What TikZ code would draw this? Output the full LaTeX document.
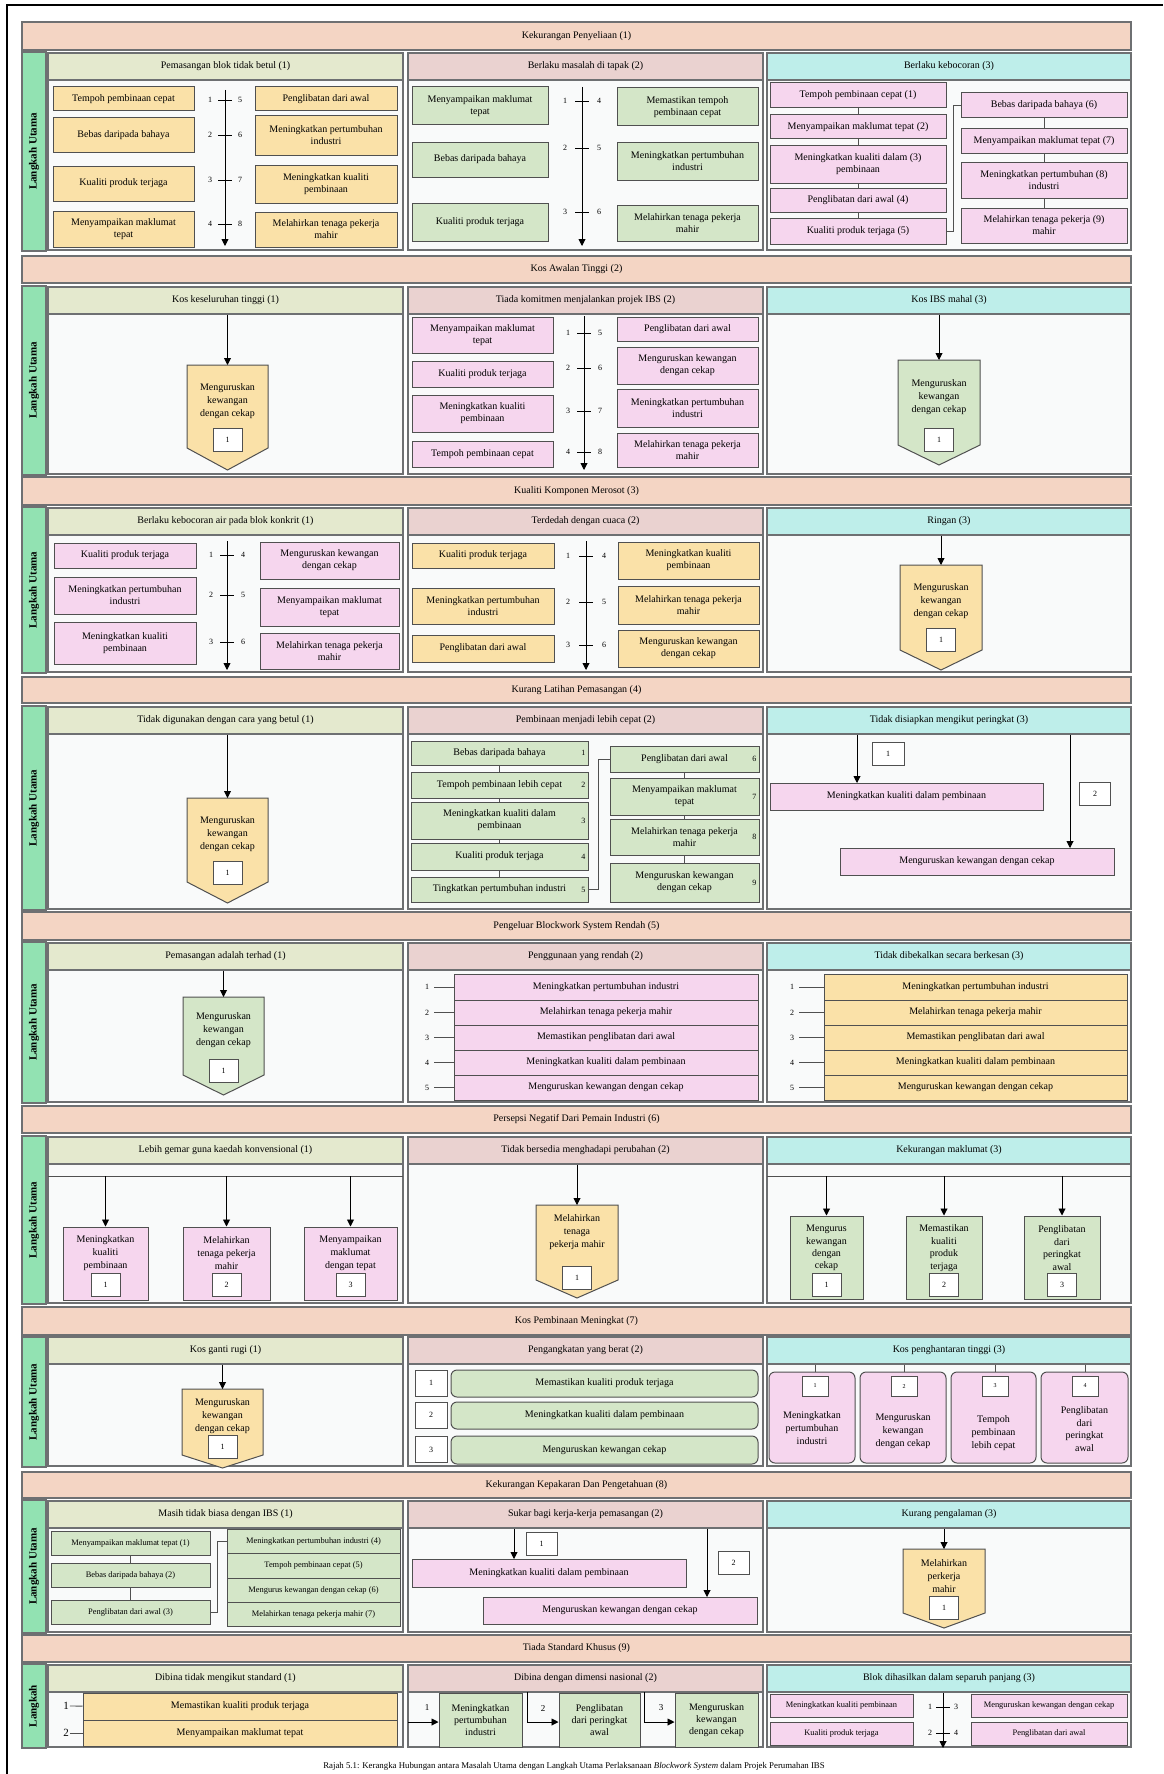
\documentclass[tikz,border=0pt]{standalone}
\usepackage{fontspec}
\setmainfont{Liberation Serif}
\usetikzlibrary{arrows.meta}

\definecolor{barsalmon}{RGB}{244,213,196}
\definecolor{stripgreen}{RGB}{146,226,178}
\definecolor{hdolive}{RGB}{228,233,206}
\definecolor{hdrose}{RGB}{234,210,208}
\definecolor{hdcyan}{RGB}{190,238,234}
\definecolor{fillorange}{RGB}{250,225,168}
\definecolor{fillpink}{RGB}{246,214,238}
\definecolor{fillgreen}{RGB}{212,230,200}
\definecolor{cellwhite}{RGB}{249,250,250}
\definecolor{framegrey}{RGB}{110,112,114}
\definecolor{boxgrey}{RGB}{80,80,80}

\tikzset{
  every node/.style={font=\fontsize{10}{12}\selectfont},
  bar/.style={draw=framegrey, fill=barsalmon, line width=1.3pt, inner sep=0pt},
  strip/.style={draw=framegrey, fill=stripgreen, line width=1.3pt, inner sep=0pt},
  striptxt/.style={font=\fontsize{11}{13}\selectfont\bfseries, inner sep=0pt},
  colbody/.style={draw=framegrey, fill=cellwhite, line width=1.3pt, inner sep=0pt},
  colhd/.style={draw=framegrey, line width=1.3pt, inner sep=0pt},
  hdA/.style={colhd, fill=hdolive},
  hdB/.style={colhd, fill=hdrose},
  hdC/.style={colhd, fill=hdcyan},
  box/.style={draw=boxgrey, line width=1pt, inner sep=0pt, align=center},
  boxO/.style={box, fill=fillorange},
  boxP/.style={box, fill=fillpink},
  boxG/.style={box, fill=fillgreen},
  smalltxt/.style={font=\fontsize{8.4}{9.5}\selectfont},
  rnd/.style={rounded corners=6pt},
  ptext/.style={align=center, inner sep=0pt, font=\fontsize{10}{12.8}\selectfont},
  numbox/.style={draw=boxgrey, fill=white, line width=0.8pt, inner sep=0pt,
    minimum width=29, minimum height=23, font=\fontsize{8}{9}\selectfont},
  tick/.style={inner sep=1pt, font=\fontsize{8}{9}\selectfont},
  numlbl/.style={tick, inner xsep=5pt},
  arr/.style={draw=black, line width=0.9pt, -{Triangle[width=7pt,length=7pt]}},
  link/.style={draw=boxgrey, line width=0.9pt},
  pentline/.style={draw=boxgrey, line width=1pt},
}

% box by its corners: style, x1, y1, x2, y2, name, text
\newcommand{\cell}[7]{\node[#1, minimum width={#4-#2}, minimum height={#5-#3}] (#6) at ({(#2+#4)/2},{(#3+#5)/2}) {#7};}
% pentagon pointing down: name, fill, x1, x2, top, shoulder, point
\newcommand{\pent}[7]{%
  \filldraw[pentline, fill=#2] (#3,#5) -- (#4,#5) -- (#4,#6) -- ({(#3+#4)/2},#7) -- (#3,#6) -- cycle;
  \coordinate (#1) at ({(#3+#4)/2},#5);}
% numbered time line: name, x, top, bottom, offset of numbers, y/left/right
\newcommand{\tline}[6]{%
  \coordinate (#1a) at (#2,#3);
  \coordinate (#1b) at (#2,#4);
  \draw[arr] (#1a) -- (#1b);
  \foreach \py/\pl/\pr in {#6}{%
    \draw[black, line width=0.9pt] (#2-7,\py) -- (#2+7,\py);
    \node[tick] (#1l\pl) at (#2-#5,\py) {\pl};
    \node[tick] (#1r\pr) at (#2+#5,\py) {\pr};}}

\begin{document}
\begin{tikzpicture}[x=1pt,y=-1pt]
\useasboundingbox (0,0) rectangle (1163,1774);
\fill[white] (0,0) rectangle (1163,1774);
\draw[line width=1.6pt] (7,1774) -- (7,5) -- (1163,5); % frame

% problem bars
\foreach \i/\ya/\yb/\txt in {1/22/50/Kekurangan Penyeliaan (1), 2/256/283/Kos Awalan Tinggi (2),
  3/477/505/Kualiti Komponen Merosot (3), 4/677/703/Kurang Latihan Pemasangan (4),
  5/912/940/Pengeluar Blockwork System Rendah (5), 6/1106/1133/Persepsi Negatif Dari Pemain Industri (6),
  7/1307/1335/Kos Pembinaan Meningkat (7), 8/1472/1498/Kekurangan Kepakaran Dan Pengetahuan (8),
  9/1635/1662/Tiada Standard Khusus (9)}
  {\cell{bar}{22}{\ya}{1131}{\yb}{bar\i}{\txt}}

% side strips
\foreach \ya/\yb in {52/251,286/475,507/673,706/910,942/1103,1136/1304,1337/1467,1500/1633}{
  \cell{strip}{22}{\ya}{46}{\yb}{st\ya}{}
  \node[striptxt, rotate=90] (stt\ya) at (st\ya) {Langkah Utama};}
\cell{strip}{22}{1664}{46}{1748}{st9}{}
\node[striptxt, rotate=90] (stt9) at (st9) {Langkah};

% columns and their heads
\foreach \s/\ya/\yb/\ta/\tb/\tc in {
  1/53/250/Pemasangan blok tidak betul (1)/Berlaku masalah di tapak (2)/Berlaku kebocoran (3),
  2/287/474/Kos keseluruhan tinggi (1)/Tiada komitmen menjalankan projek IBS (2)/Kos IBS mahal (3),
  3/508/672/Berlaku kebocoran air pada blok konkrit (1)/Terdedah dengan cuaca (2)/Ringan (3),
  4/707/909/Tidak digunakan dengan cara yang betul (1)/Pembinaan menjadi lebih cepat (2)/Tidak disiapkan mengikut peringkat (3),
  5/943/1102/Pemasangan adalah terhad (1)/Penggunaan yang rendah (2)/Tidak dibekalkan secara berkesan (3),
  6/1137/1303/Lebih gemar guna kaedah konvensional (1)/Tidak bersedia menghadapi perubahan (2)/Kekurangan maklumat (3),
  7/1337/1466/Kos ganti rugi (1)/Pengangkatan yang berat (2)/Kos penghantaran tinggi (3),
  8/1501/1632/Masih tidak biasa dengan IBS (1)/Sukar bagi kerja-kerja pemasangan (2)/Kurang pengalaman (3),
  9/1665/1747/Dibina tidak mengikut standard (1)/Dibina dengan dimensi nasional (2)/Blok dihasilkan dalam separuh panjang (3)}{
  \cell{colbody}{48}{\ya}{403}{\yb}{cb\s a}{}
  \cell{colbody}{408}{\ya}{763}{\yb}{cb\s b}{}
  \cell{colbody}{767}{\ya}{1131}{\yb}{cb\s c}{}
  \cell{hdA}{48}{\ya}{403}{\ya+27}{h\s a}{\ta}
  \cell{hdB}{408}{\ya}{763}{\ya+27}{h\s b}{\tb}
  \cell{hdC}{767}{\ya}{1131}{\ya+27}{h\s c}{\tc}}

% ---- 1 ----
\cell{boxO}{53}{87}{194}{111}{a1}{Tempoh pembinaan cepat}
\cell{boxO}{53}{118}{194}{152}{a2}{Bebas daripada bahaya}
\cell{boxO}{53}{166}{194}{201}{a3}{Kualiti produk terjaga}
\cell{boxO}{53}{211}{194}{247}{a4}{Menyampaikan maklumat\\tepat}
\cell{boxO}{255}{87}{397}{111}{a5}{Penglibatan dari awal}
\cell{boxO}{255}{116}{397}{155}{a6}{Meningkatkan pertumbuhan\\industri}
\cell{boxO}{255}{165}{397}{203}{a7}{Meningkatkan kualiti\\pembinaan}
\cell{boxO}{255}{212}{397}{247}{a8}{Melahirkan tenaga pekerja\\mahir}
\tline{t1}{225}{90}{246}{15}{100/1/5,135/2/6,180/3/7,224/4/8}

\cell{boxG}{412}{87}{548}{125}{b1}{Menyampaikan maklumat\\tepat}
\cell{boxG}{412}{142}{548}{177}{b2}{Bebas daripada bahaya}
\cell{boxG}{412}{203}{548}{241}{b3}{Kualiti produk terjaga}
\cell{boxG}{617}{88}{758}{126}{b4}{Memastikan tempoh\\pembinaan cepat}
\cell{boxG}{617}{142}{758}{180}{b5}{Meningkatkan pertumbuhan\\industri}
\cell{boxG}{617}{205}{758}{241}{b6}{Melahirkan tenaga pekerja\\mahir}
\tline{t2}{582}{87}{246}{17}{101/1/4,148/2/5,212/3/6}

\cell{boxP}{770}{83}{946}{108}{k1}{Tempoh pembinaan cepat (1)}
\cell{boxP}{770}{115}{946}{139}{k2}{Menyampaikan maklumat tepat (2)}
\cell{boxP}{770}{145}{946}{183}{k3}{Meningkatkan kualiti dalam (3)\\pembinaan}
\cell{boxP}{770}{188}{946}{212}{k4}{Penglibatan dari awal (4)}
\cell{boxP}{770}{218}{946}{244}{k5}{Kualiti produk terjaga (5)}
\cell{boxP}{961}{93}{1127}{118}{k6}{Bebas daripada bahaya (6)}
\cell{boxP}{961}{129}{1127}{153}{k7}{Menyampaikan maklumat tepat (7)}
\cell{boxP}{961}{162}{1127}{198}{k8}{Meningkatkan pertumbuhan (8)\\industri}
\cell{boxP}{961}{208}{1127}{243}{k9}{Melahirkan tenaga pekerja (9)\\mahir}
\draw[link] (k1) -- (k2); \draw[link] (k2) -- (k3); \draw[link] (k3) -- (k4); \draw[link] (k4) -- (k5);
\draw[link] (k6) -- (k7); \draw[link] (k7) -- (k8); \draw[link] (k8) -- (k9);
\draw[link] (k5.east) -- ++(7,0) |- (k6.west);

% ---- 2 ----
\pent{p1}{fillorange}{187}{268}{365}{448}{470}
\node[ptext] (p1t) at (227.5,401) {Menguruskan\\kewangan\\dengan cekap};
\node[numbox] (p1n) at (227.5,440) {1};
\draw[arr] (h2a.south -| p1) -- (p1);

\cell{boxP}{412}{317}{553}{353}{c1}{Menyampaikan maklumat\\tepat}
\cell{boxP}{412}{361}{553}{387}{c2}{Kualiti produk terjaga}
\cell{boxP}{412}{395}{553}{432}{c3}{Meningkatkan kualiti\\pembinaan}
\cell{boxP}{412}{441}{553}{467}{c4}{Tempoh pembinaan cepat}
\cell{boxP}{617}{317}{758}{341}{c5}{Penglibatan dari awal}
\cell{boxP}{617}{347}{758}{384}{c6}{Menguruskan kewangan\\dengan cekap}
\cell{boxP}{617}{389}{758}{427}{c7}{Meningkatkan pertumbuhan\\industri}
\cell{boxP}{617}{433}{758}{467}{c8}{Melahirkan tenaga pekerja\\mahir}
\tline{t3}{584}{316}{470}{16}{333/1/5,368/2/6,411/3/7,452/4/8}

\pent{p2}{fillgreen}{898}{980}{360}{445}{465}
\node[ptext] (p2t) at (939,397) {Menguruskan\\kewangan\\dengan cekap};
\node[numbox] (p2n) at (939,440) {1};
\draw[arr] (h2c.south -| p2) -- (p2);

% ---- 3 ----
\cell{boxP}{54}{543}{196}{568}{d1}{Kualiti produk terjaga}
\cell{boxP}{54}{577}{196}{614}{d2}{Meningkatkan pertumbuhan\\industri}
\cell{boxP}{54}{622}{196}{664}{d3}{Meningkatkan kualiti\\pembinaan}
\cell{boxP}{260}{542}{399}{579}{d4}{Menguruskan kewangan\\dengan cekap}
\cell{boxP}{260}{588}{399}{626}{d5}{Menyampaikan maklumat\\tepat}
\cell{boxP}{260}{633}{399}{669}{d6}{Melahirkan tenaga pekerja\\mahir}
\tline{t4}{227}{541}{670}{16}{555/1/4,595/2/5,642/3/6}

\cell{boxO}{412}{543}{554}{568}{e1}{Kualiti produk terjaga}
\cell{boxO}{412}{588}{554}{624}{e2}{Meningkatkan pertumbuhan\\industri}
\cell{boxO}{412}{635}{554}{662}{e3}{Penglibatan dari awal}
\cell{boxO}{618}{542}{759}{579}{e4}{Meningkatkan kualiti\\pembinaan}
\cell{boxO}{618}{586}{759}{624}{e5}{Melahirkan tenaga pekerja\\mahir}
\cell{boxO}{618}{630}{759}{667}{e6}{Menguruskan kewangan\\dengan cekap}
\tline{t5}{586}{541}{670}{18}{556/1/4,602/2/5,645/3/6}

\pent{p3}{fillorange}{900}{982}{565}{650}{670}
\node[ptext] (p3t) at (941,601) {Menguruskan\\kewangan\\dengan cekap};
\node[numbox] (p3n) at (941,640) {1};
\draw[arr] (h3c.south -| p3) -- (p3);

% ---- 4 ----
\pent{p4}{fillorange}{187}{268}{798}{882}{903}
\node[ptext] (p4t) at (227.5,834) {Menguruskan\\kewangan\\dengan cekap};
\node[numbox] (p4n) at (227.5,873) {1};
\draw[arr] (h4a.south -| p4) -- (p4);

\cell{boxG}{411}{741}{588}{765}{f1}{Bebas daripada bahaya}
\cell{boxG}{411}{772}{588}{798}{f2}{Tempoh pembinaan lebih cepat}
\cell{boxG}{411}{802}{588}{839}{f3}{Meningkatkan kualiti dalam\\pembinaan}
\cell{boxG}{411}{843}{588}{870}{f4}{Kualiti produk terjaga}
\cell{boxG}{411}{877}{588}{902}{f5}{Tingkatkan pertumbuhan industri}
\cell{boxG}{610}{746}{759}{772}{f6}{Penglibatan dari awal}
\cell{boxG}{610}{778}{759}{815}{f7}{Menyampaikan maklumat\\tepat}
\cell{boxG}{610}{819}{759}{855}{f8}{Melahirkan tenaga pekerja\\mahir}
\cell{boxG}{610}{863}{759}{902}{f9}{Menguruskan kewangan\\dengan cekap}
\foreach \i in {1,...,9}
  \node[tick, anchor=east, inner xsep=3pt] (fn\i) at (f\i.east) {\i};
\draw[link] (f1) -- (f2); \draw[link] (f2) -- (f3); \draw[link] (f3) -- (f4); \draw[link] (f4) -- (f5);
\draw[link] (f6) -- (f7); \draw[link] (f7) -- (f8); \draw[link] (f8) -- (f9);
\draw[link] (f5.east) -- ++(10,0) |- (f6.west);

\cell{boxP}{770}{783}{1043}{810}{g1}{Meningkatkan kualiti dalam pembinaan}
\cell{boxP}{840}{848}{1114}{875}{g2}{Menguruskan kewangan dengan cekap}
\node[numbox, minimum width=32] (g1n) at (888,754) {1};
\node[numbox, minimum width=31] (g2n) at (1095,794) {2};
\coordinate (g1x) at (857,783);
\coordinate (g2x) at (1070,848);
\draw[arr] (h4c.south -| g1x) -- (g1x);
\draw[arr] (h4c.south -| g2x) -- (g2x);

% ---- 5 ----
\pent{p5}{fillgreen}{183}{264}{997}{1075}{1095}
\node[ptext] (p5t) at (223.5,1030) {Menguruskan\\kewangan\\dengan cekap};
\node[numbox] (p5n) at (223.5,1071) {1};
\draw[arr] (h5a.south -| p5) -- (p5);

\foreach \i/\ya/\yb/\txt in {1/974/1000/Meningkatkan pertumbuhan industri, 2/1000/1025/Melahirkan tenaga pekerja mahir,
  3/1025/1050/Memastikan penglibatan dari awal, 4/1050/1075/Meningkatkan kualiti dalam pembinaan,
  5/1075/1100/Menguruskan kewangan dengan cekap}{
  \cell{boxP}{454}{\ya}{758}{\yb}{m\i}{\txt}
  \node[numlbl] (mn\i) at (427,{(\ya+\yb)/2}) {\i};
  \draw[link] (mn\i) -- (m\i);
  \cell{boxO}{824}{\ya}{1127}{\yb}{v\i}{\txt}
  \node[numlbl] (vn\i) at (792,{(\ya+\yb)/2}) {\i};
  \draw[link] (vn\i) -- (v\i);}

% ---- 6 ----
\coordinate (l6a) at (48,1176); \coordinate (l6b) at (403,1176);
\draw[link] (l6a) -- (l6b);
\cell{boxP}{63}{1227}{148}{1300}{n1}{}
\cell{boxP}{183}{1227}{270}{1300}{n2}{}
\cell{boxP}{304}{1227}{397}{1300}{n3}{}
\node[ptext] (n1t) at (105.5,1253) {Meningkatkan\\kualiti\\pembinaan};
\node[ptext] (n2t) at (226.5,1253) {Melahirkan\\tenaga pekerja\\mahir};
\node[ptext] (n3t) at (350.5,1253) {Menyampaikan\\maklumat\\dengan tepat};
\foreach \i in {1,2,3}{
  \node[numbox] (n\i n) at (n\i.center |- 0,1285) {\i};
  \draw[arr] (l6a -| n\i) -- (n\i.north);}

\pent{p6}{fillorange}{536}{618}{1205}{1280}{1298}
\node[ptext] (p6t) at (577,1232) {Melahirkan\\tenaga\\pekerja mahir};
\node[numbox] (p6n) at (577,1278) {1};
\draw[arr] (h6b.south -| p6) -- (p6);

\coordinate (l6c) at (767,1176); \coordinate (l6d) at (1131,1176);
\draw[link] (l6c) -- (l6d);
\cell{boxG}{790}{1216}{863}{1299}{o1}{}
\cell{boxG}{906}{1216}{982}{1299}{o2}{}
\cell{boxG}{1024}{1216}{1100}{1299}{o3}{}
\node[ptext, font=\fontsize{10}{12.4}\selectfont] (o1t) at (826.5,1248) {Mengurus\\kewangan\\dengan\\cekap};
\node[ptext, font=\fontsize{10}{12.4}\selectfont] (o2t) at (944,1248) {Memastikan\\kualiti\\produk\\terjaga};
\node[ptext, font=\fontsize{10}{12.4}\selectfont] (o3t) at (1062,1248) {Penglibatan\\dari\\peringkat\\awal};
\foreach \i in {1,2,3}{
  \node[numbox] (o\i n) at (o\i.center |- 0,1285) {\i};
  \draw[arr] (l6c -| o\i) -- (o\i.north);}

% ---- 7 ----
\pent{p7}{fillorange}{182}{263}{1389}{1455}{1468}
\node[ptext] (p7t) at (222.5,1416) {Menguruskan\\kewangan\\dengan cekap};
\node[numbox] (p7n) at (222.5,1447) {1};
\draw[arr] (h7a.south -| p7) -- (p7);

\foreach \i/\ya/\yb/\txt in {1/1370/1396/Memastikan kualiti produk terjaga, 2/1402/1428/Meningkatkan kualiti dalam pembinaan,
  3/1436/1463/Menguruskan kewangan cekap}{
  \node[numbox, minimum width=32, minimum height=26] (qn\i) at (431,{(\ya+\yb)/2}) {\i};
  \cell{boxG, rnd}{451}{\ya+1}{758}{\yb}{q\i}{\txt}}

\cell{boxP, rnd}{769}{1372}{855}{1463}{r1}{}
\cell{boxP, rnd}{860}{1372}{946}{1463}{r2}{}
\cell{boxP, rnd}{951}{1372}{1036}{1463}{r3}{}
\cell{boxP, rnd}{1041}{1372}{1128}{1463}{r4}{}
\node[ptext] (r1t) at (812,1428) {Meningkatkan\\pertumbuhan\\industri};
\node[ptext] (r2t) at (903,1431) {Menguruskan\\kewangan\\dengan cekap};
\node[ptext] (r3t) at (993.5,1433) {Tempoh\\pembinaan\\lebih cepat};
\node[ptext] (r4t) at (1084.5,1429) {Penglibatan\\dari\\peringkat\\awal};
\foreach \i/\x in {1/815,2/904,3/995,4/1085}{
  \node[numbox, minimum width=26, minimum height=20, font=\fontsize{6}{7}\selectfont] (rn\i) at (\x,1386) {\i};
  \draw[link] (h7c.south -| rn\i) -- (r\i.north -| rn\i);}

% ---- 8 ----
\cell{boxG, smalltxt}{51}{1531}{210}{1555}{u1}{Menyampaikan maklumat tepat (1)}
\cell{boxG, smalltxt}{51}{1563}{210}{1587}{u2}{Bebas daripada bahaya (2)}
\cell{boxG, smalltxt}{51}{1600}{210}{1624}{u3}{Penglibatan dari awal (3)}
\cell{boxG, smalltxt}{227}{1529}{400}{1553}{u4}{Meningkatkan pertumbuhan industri (4)}
\cell{boxG, smalltxt}{227}{1553}{400}{1578}{u5}{Tempoh pembinaan cepat (5)}
\cell{boxG, smalltxt}{227}{1578}{400}{1602}{u6}{Mengurus kewangan dengan cekap (6)}
\cell{boxG, smalltxt}{227}{1602}{400}{1626}{u7}{Melahirkan tenaga pekerja mahir (7)}
\draw[link] (u1) -- (u2); \draw[link] (u2) -- (u3);
\draw[link] (u3.east) -- ++(7,0) |- (u4.west);

\cell{boxP}{412}{1559}{686}{1587}{w1}{Meningkatkan kualiti dalam pembinaan}
\cell{boxP}{483}{1597}{757}{1624}{w2}{Menguruskan kewangan dengan cekap}
\node[numbox, minimum width=31] (w1n) at (541.5,1543.5) {1};
\node[numbox, minimum width=31] (w2n) at (733.5,1562.5) {2};
\coordinate (w1x) at (514,1559);
\coordinate (w2x) at (707,1597);
\draw[arr] (h8b.south -| w1x) -- (w1x);
\draw[arr] (h8b.south -| w2x) -- (w2x);

\pent{p8}{fillorange}{903}{985}{1549}{1613}{1628}
\node[ptext] (p8t) at (944,1576) {Melahirkan\\perkerja\\mahir};
\node[numbox] (p8n) at (944,1608) {1};
\draw[arr] (h8c.south -| p8) -- (p8);

% ---- 9 ----
\cell{boxO}{83}{1693}{397}{1720}{x1}{Memastikan kualiti produk terjaga}
\cell{boxO}{83}{1720}{397}{1746}{x2}{Menyampaikan maklumat tepat}
\node[inner sep=1pt, font=\fontsize{11}{12}\selectfont] (xn1) at (66,1706) {1};
\node[inner sep=1pt, font=\fontsize{11}{12}\selectfont] (xn2) at (66,1733) {2};
\draw[link] (xn1) -- (x1);
\draw[link] (xn2) -- (x2);

\cell{boxG}{439}{1693}{522}{1747}{y1}{Meningkatkan\\pertumbuhan\\industri}
\cell{boxG}{559}{1693}{640}{1747}{y2}{Penglibatan\\dari peringkat\\awal}
\cell{boxG}{675}{1693}{758}{1747}{y3}{Menguruskan\\kewangan\\dengan cekap}
\node[tick, font=\fontsize{9}{10}\selectfont] (yn1) at (427,1708) {1};
\node[tick, font=\fontsize{9}{10}\selectfont] (yn2) at (543,1708) {2};
\node[tick, font=\fontsize{9}{10}\selectfont] (yn3) at (661,1708) {3};
\coordinate (ya1) at (408,1722);
\coordinate (ya2) at (527,1692);
\coordinate (ya3) at (644,1692);
\draw[arr] (ya1) -- (ya1 -| y1.west);
\draw[arr] (ya2) |- (ya1 -| y2.west);
\draw[arr] (ya3) |- (ya1 -| y3.west);

\cell{boxP, smalltxt}{770}{1694}{913}{1717}{z1}{Meningkatkan kualiti pembinaan}
\cell{boxP, smalltxt}{770}{1722}{913}{1745}{z2}{Kualiti produk terjaga}
\cell{boxP, smalltxt}{971}{1694}{1127}{1717}{z3}{Menguruskan kewangan dengan cekap}
\cell{boxP, smalltxt}{971}{1722}{1127}{1745}{z4}{Penglibatan dari awal}
\tline{t6}{943}{1693}{1748}{13}{1707/1/3,1733/2/4}

\node[font=\fontsize{8.8}{10}\selectfont] (cap) at (574,1766) {Rajah 5.1: Kerangka Hubungan antara Masalah Utama dengan Langkah Utama Perlaksanaan \textit{Blockwork System} dalam Projek Perumahan IBS};
\end{tikzpicture}
\end{document}
